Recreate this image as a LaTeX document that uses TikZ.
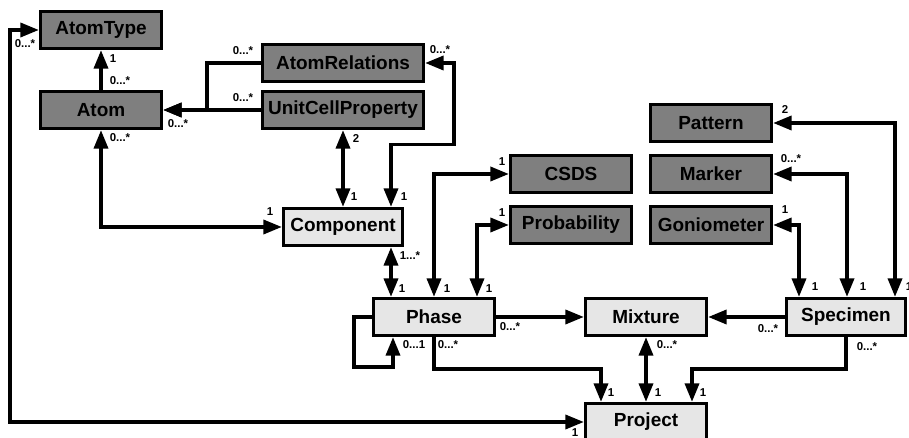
\documentclass[tikz,border=0pt]{standalone}
\usepackage{fontspec}
\setmainfont{Liberation Sans}
\usepackage{tikz}
\usetikzlibrary{arrows.meta,calc,positioning}

\definecolor{darkbox}{HTML}{7F7F7F}
\definecolor{lightbox}{HTML}{E6E6E6}

\tikzset{
  cls/.style={draw, line width=1.9pt, minimum width=2.42cm, minimum height=0.74cm,
    inner sep=2pt, font=\fontsize{10.8}{12}\selectfont\bfseries},
  dark/.style={cls, fill=darkbox},
  light/.style={cls, fill=lightbox},
  wide/.style={minimum width=3.22cm},
  card/.style={inner sep=0pt, font=\fontsize{6.5}{7}\selectfont\bfseries},
  uni/.style={line width=1.9pt, -{Triangle[length=10.5pt,width=8pt]}},
  bi/.style={line width=1.9pt, {Triangle[length=10.5pt,width=8pt]}-{Triangle[length=10.5pt,width=8pt]}}
}

\begin{document}
\begin{tikzpicture}[x=0.02cm, y=-0.02cm]
    \useasboundingbox (0,0) rectangle (909,438);
    % classes
    \node [dark] (atomtype) at (101,30) {AtomType};
    \node [dark] (atom) at (101,110) {Atom};
    \node [dark, wide] (atomrel) at (343,63) {AtomRelations};
    \node [dark, wide] (ucp) at (343,110) {UnitCellProperty};
    \node [light, minimum width=2.38cm] (comp) at (343,227) {Component};
    \node [dark] (csds) at (571,174) {CSDS};
    \node [dark] (prob) at (571,225) {Probability};
    \node [dark] (pattern) at (711,123) {Pattern};
    \node [dark] (marker) at (711,174) {Marker};
    \node [dark] (gonio) at (711,225) {Goniometer};
    \node [light] (phase) at (434,317) {Phase};
    \node [light] (mixture) at (646,317) {Mixture};
    \node [light, minimum width=2.38cm] (specimen) at (846,317) {Specimen};
    \node [light] (project) at (646,422) {Project};
    \coordinate (bend) at (10,30);
    % associations
    \draw[uni] (atom) -- (atomtype);
    \draw[uni] (atomrel.west) -- ++(-54,0) |- (atom.east);
    \draw[uni] (ucp) -- (atom);
    \draw[bi] (atom.south) |- (comp.west);
    \draw[bi] (ucp.south) -- (comp.north);
    \draw[bi] ($(comp.north)+(48,0)$) -- ++(0,-62) -| ($(atomrel.east)+(29,0)$) -- (atomrel.east);
    \draw[bi] ($(comp.south)+(48,0)$) -- ($(phase.north)+(-43,0)$);
    \draw[bi] (phase.north) |- (csds.west);
    \draw[bi] ($(phase.north)+(43,0)$) |- (prob.west);
    \draw[uni] (phase.west) -- ++(-18,0) -- ++(0,50) -| ($(phase.south)+(-41,0)$);
    \draw[uni] (phase) -- (mixture);
    \draw[uni] (phase.south) -- ++(0,32) -| ($(project.north)+(-45,0)$);
    \draw[bi] (mixture) -- (project);
    \draw[uni] (specimen) -- (mixture);
    \draw[uni] (specimen.south) -- ++(0,32) -| ($(project.north)+(46,0)$);
    \draw[bi] ($(specimen.north)+(-47,0)$) |- (gonio.east);
    \draw[bi] ($(specimen.north)+(1,0)$) |- (marker.east);
    \draw[bi] ($(specimen.north)+(49,0)$) |- (pattern.east);
    \draw[bi] (project.west) -| (bend) -- (atomtype.west);
    % multiplicities
    \node [card] (m1) at (25,44) {0...*};
    \node [card] (m2) at (113,59) {1};
    \node [card] (m3) at (120,81) {0...*};
    \node [card] (m4) at (243,51) {0...*};
    \node [card] (m5) at (243,98) {0...*};
    \node [card] (m6) at (178,124) {0...*};
    \node [card] (m7) at (120,138) {0...*};
    \node [card] (m8) at (356,139) {2};
    \node [card] (m9) at (354,197) {1};
    \node [card] (m10) at (404,197) {1};
    \node [card] (m11) at (440,50) {0...*};
    \node [card] (m12) at (270,212) {1};
    \node [card] (m13) at (410,256) {1...*};
    \node [card] (m14) at (402,289) {1};
    \node [card] (m15) at (447,289) {1};
    \node [card] (m16) at (489,289) {1};
    \node [card] (m17) at (502,162) {1};
    \node [card] (m18) at (502,213) {1};
    \node [card] (m19) at (785,110) {2};
    \node [card] (m20) at (791,159) {0...*};
    \node [card] (m21) at (785,210) {1};
    \node [card] (m22) at (815,287) {1};
    \node [card] (m23) at (863,287) {1};
    \node [card] (m24) at (909,287) {1};
    \node [card] (m25) at (510,327) {0...*};
    \node [card] (m26) at (414,345) {0...1};
    \node [card] (m27) at (448,345) {0...*};
    \node [card] (m28) at (667,345) {0...*};
    \node [card] (m29) at (768,329) {0...*};
    \node [card] (m30) at (867,347) {0...*};
    \node [card] (m31) at (611,393) {1};
    \node [card] (m32) at (658,393) {1};
    \node [card] (m33) at (703,393) {1};
    \node [card] (m34) at (575,433) {1};
\end{tikzpicture}
\end{document}
